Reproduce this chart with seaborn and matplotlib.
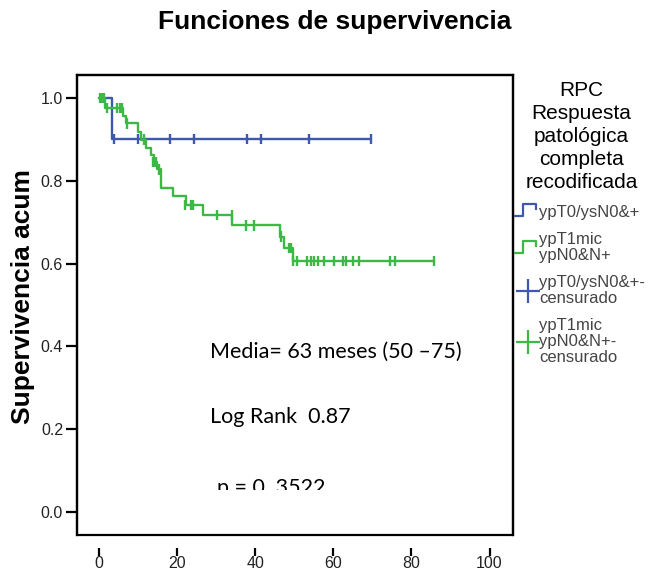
import numpy as np
import pandas as pd
import seaborn as sns
import matplotlib.pyplot as plt
from matplotlib.lines import Line2D
from matplotlib.path import Path
from matplotlib.patches import Rectangle
from matplotlib.transforms import Bbox, TransformedBbox

sns.set_style('white')
plt.rcParams['font.family'] = ['Liberation Sans', 'DejaVu Sans']

# curvas de Kaplan-Meier (tiempo en meses, supervivencia acumulada)
t_azul = [0, 3.3, 69.7]
s_azul = [1.0, 0.90, 0.90]
t_verde = [0, 1.6, 6.2, 7.0, 10.0, 10.9, 12.0, 13.3, 14.0, 15.0, 15.8, 19.1,
           22.2, 26.6, 34.0, 46.4, 47.4, 49.6, 85.9]
s_verde = [1.0, 0.976, 0.957, 0.938, 0.918, 0.899, 0.880, 0.862, 0.845, 0.827,
           0.783, 0.764, 0.742, 0.718, 0.692, 0.665, 0.638, 0.606, 0.606]

# censurados
cens_azul_t = [3.9, 10.1, 18.2, 24.4, 38.0, 41.6, 53.8, 69.7]
cens_azul_s = [0.90] * 8
cens_verde_t = [0.2, 0.6, 1.0, 1.3, 2.1, 4.6, 5.5, 6.0, 7.3, 11.5, 13.8, 14.3,
                14.7, 15.4, 22.0, 23.7, 24.2, 30.3, 34.0, 37.7, 39.6, 46.6,
                48.6, 49.2, 49.8, 50.8, 53.3, 54.3, 55.1, 56.2, 57.5, 60.1,
                62.5, 63.3, 65.1, 66.7, 74.6, 75.7, 85.9]
cens_verde_s = [1.0, 1.0, 1.0, 1.0, 0.976, 0.976, 0.976, 0.976, 0.938, 0.899,
                0.845, 0.845, 0.845, 0.827, 0.742, 0.742, 0.742, 0.718, 0.718,
                0.692, 0.692, 0.665, 0.638, 0.638] + [0.606] * 15

grupos = ['ypT0/ysN0&+', 'ypT1mic\nypN0&N+']
colores = ['#3e58ac', '#3bb846']
yticks = [0.0, 0.2, 0.4, 0.6, 0.8, 1.0]
xticks = [0, 20, 40, 60, 80, 100]

curvas = pd.DataFrame({
    'tiempo': t_azul + t_verde,
    'superv': s_azul + s_verde,
    'grupo': [grupos[0]] * len(t_azul) + [grupos[1]] * len(t_verde)})
cens = pd.DataFrame({
    'tiempo': cens_azul_t + cens_verde_t,
    'superv': cens_azul_s + cens_verde_s,
    'grupo': [grupos[0]] * len(cens_azul_t) + [grupos[1]] * len(cens_verde_t)})

fig = plt.figure(figsize=(6.58, 5.70), dpi=100)
ax = fig.add_axes([77 / 658, 1 - 535 / 570, 436 / 658, 460 / 570])

pal = dict(zip(grupos, colores))
sns.lineplot(data=curvas, x='tiempo', y='superv', hue='grupo', palette=pal,
             drawstyle='steps-post', estimator=None, sort=False, lw=1.7,
             legend=False, ax=ax)
sns.scatterplot(data=cens, x='tiempo', y='superv', hue='grupo', palette=pal,
                marker='|', s=55, linewidth=1.7, legend=False, ax=ax, zorder=3)

ax.set_xlim(-5.6, 106)
ax.set_ylim(-0.055, 1.055)
ax.set_xticks(xticks)
ax.set_yticks(yticks)
ax.set_xticklabels([str(v) for v in xticks])
ax.set_yticklabels(['%.1f' % v for v in yticks])
ax.set_xlabel('')
ax.set_ylabel('Supervivencia acum', fontsize=19, fontweight='bold', color='black')
ax.yaxis.set_label_coords(-0.097, 0.518)

# marco con eje x separado
for lado in ['left', 'right', 'top']:
    ax.spines[lado].set_linewidth(1.6)
    ax.spines[lado].set_color('black')
ax.spines['bottom'].set_position(('outward', 9))
ax.spines['bottom'].set_visible(False)
ax.add_patch(Rectangle((0, 0), 1, 1, transform=ax.transAxes, fill=False,
                       lw=1.6, ec='black', clip_on=False, zorder=5))
ax.tick_params(axis='x', direction='out', length=6, width=1.6, pad=0,
               labelsize=11.5, labelcolor='#222', color='black', bottom=True)
ax.tick_params(axis='y', direction='out', length=8, width=1.6, pad=2,
               labelsize=11.5, labelcolor='#222', color='black', left=True)

fig.text(0.508, 0.962, 'Funciones de supervivencia', ha='center', va='center',
         fontsize=19, fontweight='bold', color='black')

# anotaciones
ax.text(28.5, 0.388, 'Media= 63 meses (50 \u201375)', family='Lato', fontsize=15.5,
        va='center', ha='left', color='black')
ax.text(28.5, 0.229, 'Log Rank  0.87', family='Lato', fontsize=15.5,
        va='center', ha='left', color='black')
p_txt = ax.text(30.3, 0.043, 'p = 0 .3522', family='Lato', fontsize=15.5,
                va='baseline', ha='left', color='black')
p_txt.set_clip_box(TransformedBbox(Bbox([[-10, 0.053], [120, 1.2]]), ax.transData))
p_txt.set_clip_on(True)

# leyenda
escalon = Path([(-1.0, -0.35), (-0.35, -0.35), (-0.35, 0.5), (0.55, 0.5), (0.55, 0.05)])
handles = [
    Line2D([], [], ls='none', marker=escalon, ms=20, mfc='none', mec=colores[0], mew=1.6),
    Line2D([], [], ls='none', marker=escalon, ms=20, mfc='none', mec=colores[1], mew=1.6),
    Line2D([], [], ls='none', marker='+', ms=17, mec=colores[0], mew=1.6),
    Line2D([], [], ls='none', marker='+', ms=17, mec=colores[1], mew=1.6),
]
labels = ['ypT0/ysN0&+', 'ypT1mic\nypN0&N+', 'ypT0/ysN0&+-\ncensurado',
          'ypT1mic\nypN0&N+-\ncensurado']
leg = ax.legend(handles, labels, title='RPC\nRespuesta\npatológica\ncompleta\nrecodificada',
                loc='upper left', bbox_to_anchor=(518 / 658, 1 - 81 / 570),
                bbox_transform=fig.transFigure, frameon=False, handlelength=1.15,
                handletextpad=0.12, labelspacing=0.75, borderpad=0, borderaxespad=0,
                fontsize=12, title_fontsize=15)
for txt in leg.get_texts():
    txt.set_color('#444')
    txt.set_linespacing(1.05)
leg.get_title().set_multialignment('center')
leg.get_title().set_linespacing(1.27)
leg.get_title().set_color('black')

fig.savefig('out.png', dpi=100)
